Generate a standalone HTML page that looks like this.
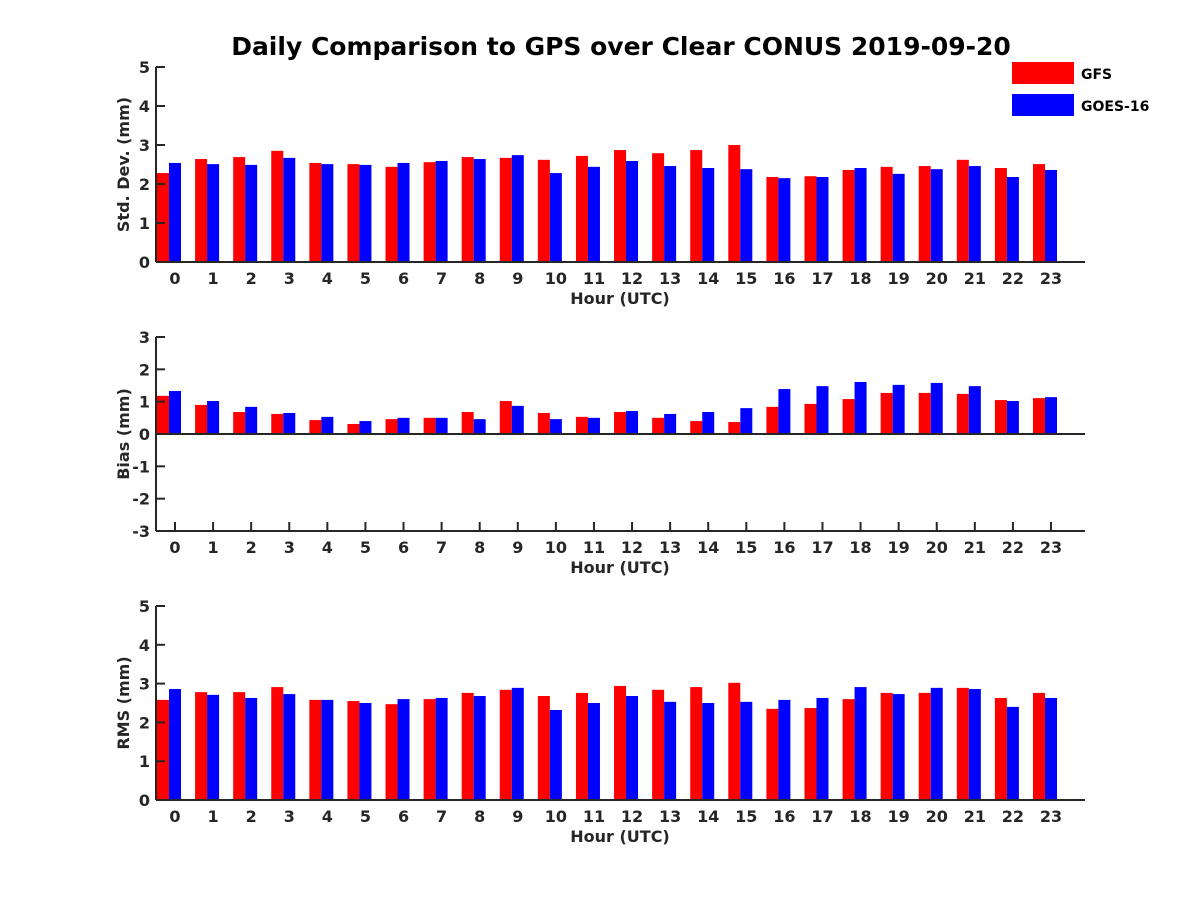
<!DOCTYPE html>
<html><head><meta charset="utf-8"><style>
body{margin:0;background:#fff}
svg text{font-family:"DejaVu Sans","Liberation Sans",sans-serif;font-weight:bold;fill:#262626}
</style></head><body>
<svg id="c" width="1200" height="900" xmlns="http://www.w3.org/2000/svg">
<rect width="1200" height="900" fill="#fff"/>
<text x="621" y="55" font-size="25" text-anchor="middle" style="fill:#000">Daily Comparison to GPS over Clear CONUS 2019-09-20</text>
<g>
<rect x="1012" y="62" width="62" height="22" fill="#f00"/>
<text x="1081" y="79" font-size="14" style="fill:#000">GFS</text>
<rect x="1012" y="94" width="62" height="22" fill="#00f"/>
<text x="1081" y="111" font-size="14" style="fill:#000">GOES-16</text>
</g>
</svg>
<script>
const hours=[0,1,2,3,4,5,6,7,8,9,10,11,12,13,14,15,16,17,18,19,20,21,22,23];
const stdGFS=[2.28,2.64,2.69,2.85,2.54,2.51,2.44,2.56,2.69,2.67,2.62,2.72,2.87,2.79,2.87,3.0,2.18,2.2,2.36,2.44,2.46,2.62,2.41,2.51];
const stdGOES=[2.54,2.51,2.49,2.67,2.51,2.49,2.54,2.59,2.64,2.74,2.28,2.44,2.59,2.46,2.41,2.38,2.15,2.18,2.41,2.26,2.38,2.46,2.18,2.36];
const biasGFS=[1.18,0.9,0.68,0.62,0.43,0.31,0.46,0.5,0.68,1.02,0.65,0.53,0.68,0.5,0.4,0.37,0.84,0.93,1.08,1.27,1.27,1.24,1.05,1.11];
const biasGOES=[1.33,1.02,0.84,0.65,0.53,0.4,0.5,0.5,0.46,0.87,0.46,0.5,0.71,0.62,0.68,0.8,1.39,1.48,1.61,1.52,1.58,1.48,1.02,1.14];
const rmsGFS=[2.58,2.78,2.78,2.91,2.58,2.55,2.47,2.6,2.76,2.84,2.68,2.76,2.94,2.84,2.91,3.02,2.35,2.37,2.6,2.76,2.76,2.89,2.63,2.76];
const rmsGOES=[2.86,2.71,2.63,2.73,2.58,2.5,2.6,2.63,2.68,2.89,2.32,2.5,2.68,2.53,2.5,2.53,2.58,2.63,2.91,2.73,2.89,2.86,2.4,2.63];
const stdTicks=[0,1,2,3,4,5];
const biasTicks=[-3,-2,-1,0,1,2,3];
const rmsTicks=[0,1,2,3,4,5];
const NS='http://www.w3.org/2000/svg';
const svg=document.getElementById('c');
function mk(t,a,p){const e=document.createElementNS(NS,t);for(const k in a)e.setAttribute(k,a[k]);(p||svg).appendChild(e);return e;}
const X0=156,X1=1085;
function xs(h){return 175+h*38.087;}
function panel(key,top,bot,ymin,ymax,ticks,label,gfs,goes){
  const g=mk('g',{});
  
  
  const ys=v=>bot-(v-ymin)/(ymax-ymin)*(bot-top);
  const y0=ys(Math.max(0,ymin));
  hours.forEach(h=>{
    mk('line',{x1:xs(h),y1:bot,x2:xs(h),y2:bot-9,stroke:'#262626','stroke-width':2},g);
  });
  hours.forEach((h,i)=>{
    const cx=xs(h)-6;
    const r=mk('rect',{x:cx-12,y:Math.min(ys(gfs[i]),y0),width:12,height:Math.abs(y0-ys(gfs[i])),fill:'#f00'},g);
    
    
    const b=mk('rect',{x:cx,y:Math.min(ys(goes[i]),y0),width:12,height:Math.abs(y0-ys(goes[i])),fill:'#00f'},g);
    
    
  });
  mk('line',{x1:X0,y1:top,x2:X0,y2:bot,stroke:'#262626','stroke-width':2},g);
  mk('line',{x1:X0,y1:bot,x2:X1,y2:bot,stroke:'#262626','stroke-width':2},g);
  if(ymin<0) mk('line',{x1:X0,y1:y0,x2:X1,y2:y0,stroke:'#262626','stroke-width':2},g);
  ticks.forEach(t=>{
    mk('line',{x1:X0,y1:ys(t),x2:X0+9,y2:ys(t),stroke:'#262626','stroke-width':2},g);
    const tx=mk('text',{x:X0-6,y:ys(t)+6,'font-size':16,'text-anchor':'end'},g);
    tx.textContent=t;
    
    
  });
  hours.forEach(h=>{
    const tx=mk('text',{x:xs(h),y:bot+22,'font-size':16,'text-anchor':'middle'},g);
    tx.textContent=h;
    
    
  });
  const xl=mk('text',{x:620,y:bot+42,'font-size':16,'text-anchor':'middle'},g);
  xl.textContent='Hour (UTC)';
  
  
  const yl=mk('text',{x:0,y:0,'font-size':16,'text-anchor':'middle',transform:`translate(129,${(top+bot)/2}) rotate(-90)`},g);
  yl.textContent=label;
  
  
}
panel('std',67,262,0,5,stdTicks,'Std. Dev. (mm)',stdGFS,stdGOES);
panel('bias',337,531,-3,3,biasTicks,'Bias (mm)',biasGFS,biasGOES);
panel('rms',606,800,0,5,rmsTicks,'RMS (mm)',rmsGFS,rmsGOES);
</script>
</body></html>
